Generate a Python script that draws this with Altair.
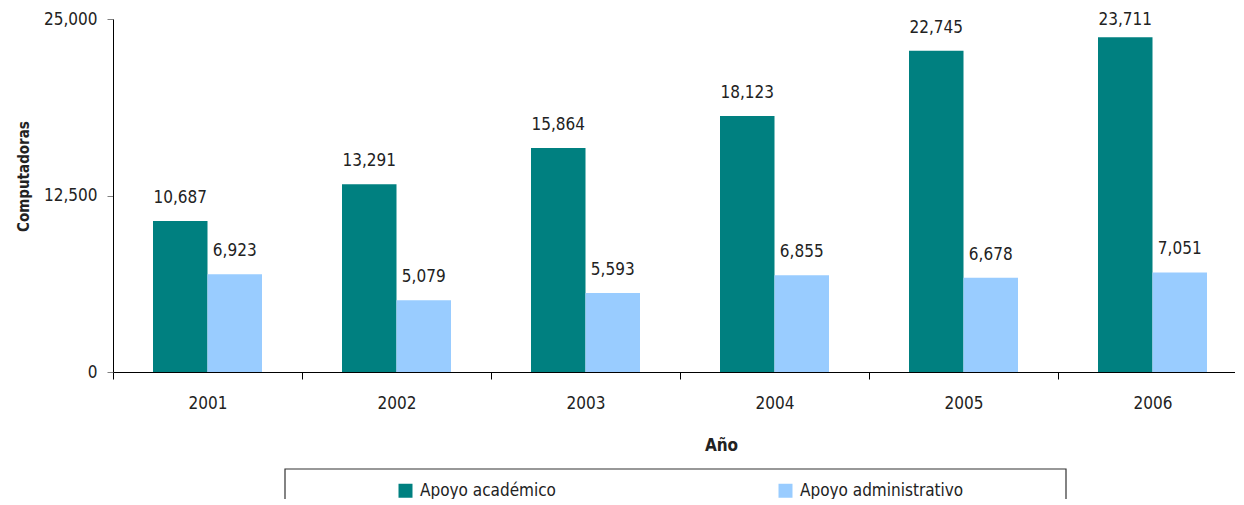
import altair as alt
import pandas as pd

years = ["2001", "2002", "2003", "2004", "2005", "2006"]
series = ["Apoyo académico", "Apoyo administrativo"]
academico = [10687, 13291, 15864, 18123, 22745, 23711]
administrativo = [6923, 5079, 5593, 6855, 6678, 7051]
y_ticks = [0, 12500, 25000]
colors = ["#008080", "#99CCFF"]

rows = []
for i, y in enumerate(years):
    rows.append({"Año": y, "Tipo": series[0], "Computadoras": academico[i]})
    rows.append({"Año": y, "Tipo": series[1], "Computadoras": administrativo[i]})
df = pd.DataFrame(rows)

FONT = "DejaVu Sans Condensed"
TXT = "#222222"

x_enc = alt.X(
    "Año:N",
    sort=years,
    scale=alt.Scale(paddingInner=0, paddingOuter=0),
    axis=alt.Axis(
        title="Año",
        labelAngle=0,
        tickBand="extent",
        tickSize=7,
        tickColor="#000000",
        domainColor="#000000",
        labelPadding=16,
        labelFontSize=17,
        labelColor=TXT,
        titleFontSize=17,
        titleFontWeight="bold",
        titleColor=TXT,
        titleX=608,
        titleY=65,
        titleBaseline="top",
    ),
)
y_scale = alt.Scale(domain=[0, 25000], nice=False)
y_axis = alt.Axis(
    title="Computadoras",
    values=y_ticks,
    format=",.0f",
    grid=False,
    tickSize=6,
    tickColor="#808080",
    domainColor="#000000",
    labelPadding=10,
    labelFontSize=17,
    labelColor=TXT,
    titleFontSize=15,
    titleFontWeight="bold",
    titleColor=TXT,
    titleX=-82,
    titleY=157,
    titleAngle=270,
    titleBaseline="bottom",
)
y_enc = alt.Y("Computadoras:Q", scale=y_scale, axis=y_axis, title="Computadoras")
xoff = alt.XOffset("Tipo:N", sort=series, scale=alt.Scale(paddingInner=0, paddingOuter=0.734))
color_enc = alt.Color(
    "Tipo:N",
    sort=series,
    scale=alt.Scale(domain=series, range=colors),
    legend=alt.Legend(
        title=None,
        orient="none",
        direction="horizontal",
        legendX=284,
        legendY=463,
        padding=0,
        symbolType="square",
        symbolSize=196,
        symbolStrokeWidth=0,
        labelFontSize=17,
        labelColor=TXT,
        labelOffset=6,
        labelLimit=400,
        columnPadding=221,
    ),
)

bars = alt.Chart(df).mark_bar().encode(x=x_enc, xOffset=xoff, y=y_enc, color=color_enc)

# label placed 18px above the bar, kept inside the plot like the original
labels = (
    alt.Chart(df)
    .transform_calculate(ly="min(datum.Computadoras + 1275, 24575)")
    .mark_text(baseline="alphabetic", fontSize=17, color=TXT, font=FONT)
    .encode(
        x=x_enc,
        xOffset=xoff,
        y=alt.Y("ly:Q", scale=y_scale, axis=y_axis, title="Computadoras"),
        text=alt.Text("Computadoras:Q", format=","),
    )
)

box = alt.Chart(alt.Data(values=[{"k": 1}])).mark_rect(
    fill="transparent", stroke="#333333", strokeWidth=1.2
).encode(
    x=alt.value(172), x2=alt.value(953), y=alt.value(450), y2=alt.value(510)
)

chart = (
    alt.layer(bars, labels, box)
    .properties(
        width=1134,
        height=353,
        autosize=alt.AutoSizeParams(type="none"),
        padding={"left": 105, "top": 11, "right": -12, "bottom": 127},
    )
    .configure(font=FONT)
    .configure_view(stroke=None)
    .configure_axis(labelFont=FONT, titleFont=FONT)
    .configure_legend(labelFont=FONT)
)

chart.save("out.html", embed_options={"renderer": "svg", "actions": False})
